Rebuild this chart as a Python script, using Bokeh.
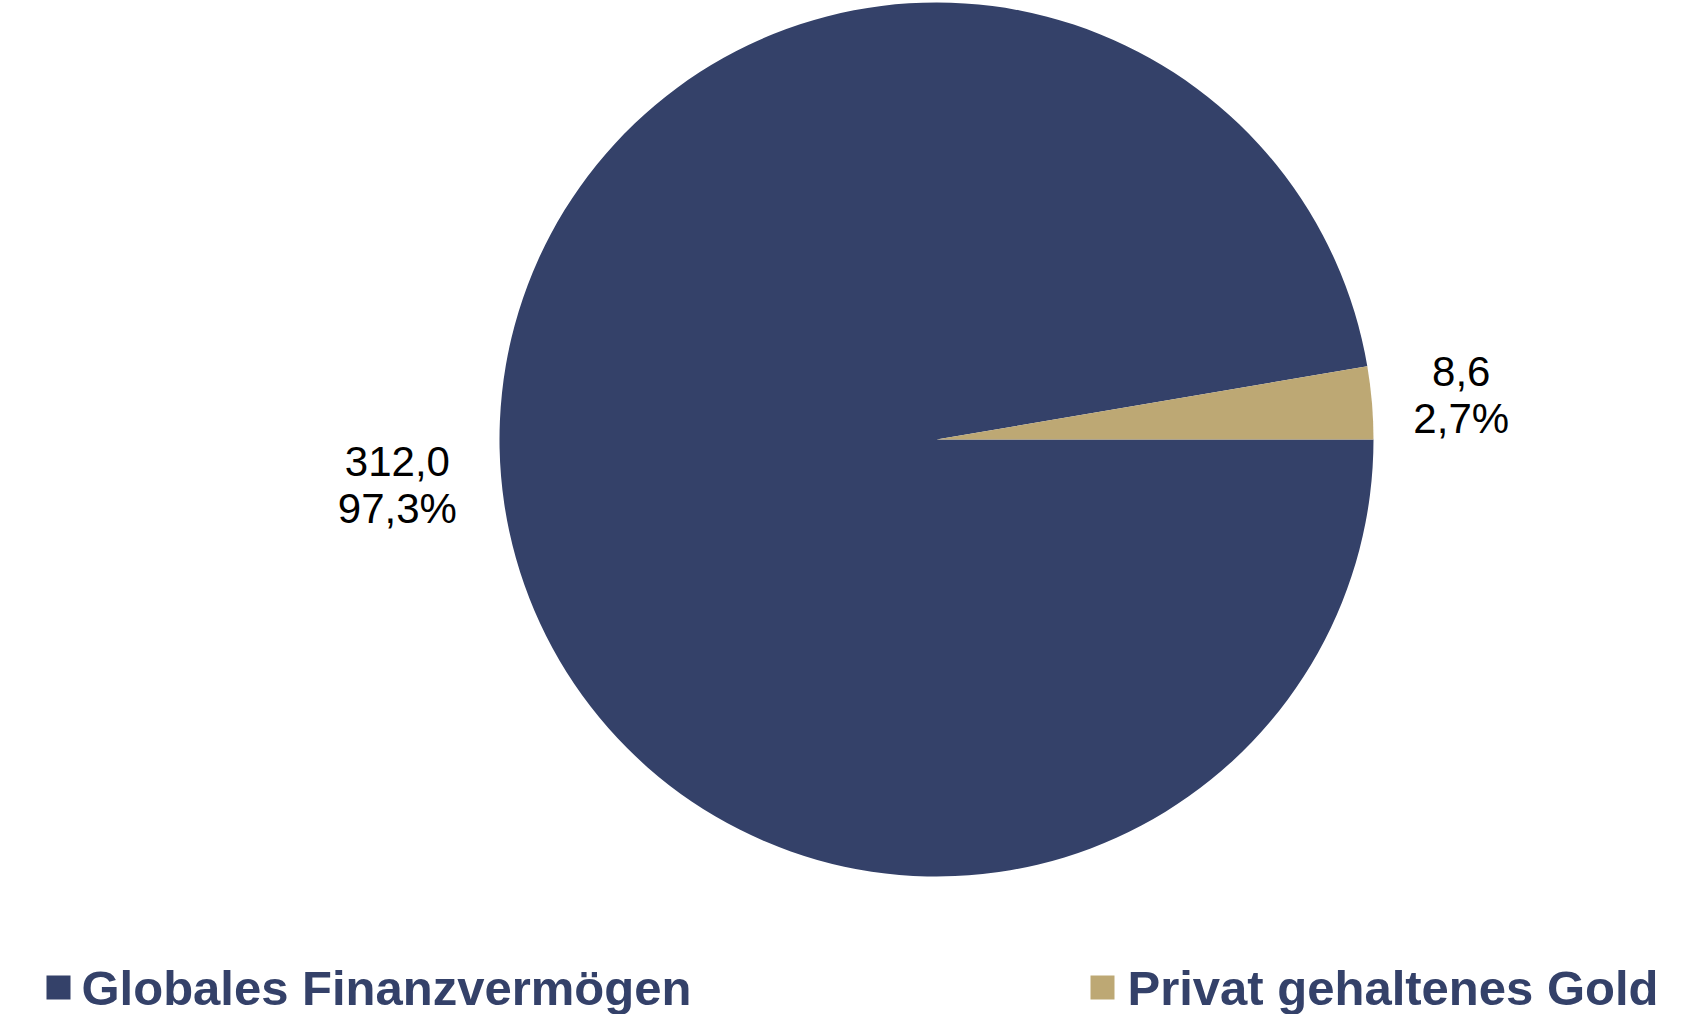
import math
from bokeh.plotting import figure
from bokeh.models import Range1d, ColumnDataSource
from bokeh.core.properties import value
from bokeh.embed import file_html
from bokeh.resources import INLINE

# ---- data ----
categories = ["Globales Finanzvermögen", "Privat gehaltenes Gold"]
values = [312.0, 8.6]
colors = ["#344169", "#BDA874"]

W, H = 1686, 1014
p = figure(width=W, height=H, output_backend="svg", toolbar_location=None,
           x_range=Range1d(0, W), y_range=Range1d(0, H), min_border=0)
p.axis.visible = False
p.grid.visible = False
p.outline_line_color = None
p.background_fill_color = "white"

cx, cy, r = 936, 575, 437
total = sum(values)
# first slice runs clockwise from 3 o'clock, as in the original
ends = []
starts = []
acc = 0.0
for v in values:
    a0 = -acc / total * 2 * math.pi
    acc += v
    a1 = -acc / total * 2 * math.pi
    starts.append(a1)
    ends.append(a0)
src = ColumnDataSource(dict(start=starts, end=ends, color=colors))
p.wedge(x=cx, y=cy, radius=r, start_angle="start", end_angle="end",
        fill_color="color", line_color=None, source=src)

# data labels
lab_x, lab_y, lab_t = [], [], []
factors = [1.238, 1.205]
for v, s, e, f in zip(values, starts, ends, factors):
    mid = (s + e) / 2
    lab_x.append(cx + r * f * math.cos(mid))
    lab_y.append(cy + r * f * math.sin(mid))
    pct = v / total * 100
    lab_t.append(f"{v:.1f}".replace(".", ",") + "\n" + f"{pct:.1f}".replace(".", ",") + "%")
p.text(x=lab_x, y=lab_y, text=lab_t, text_font=value("Liberation Sans"),
       text_font_size="42px", text_color="black", text_align="center",
       text_baseline="middle", text_line_height=1.0)

# legend
leg_x = [58, 1102]
leg_y = [27, 27]
p.rect(x=leg_x, y=leg_y, width=24, height=24, fill_color=colors, line_color=None)
p.text(x=[leg_x[0] + 23, leg_x[1] + 25], y=leg_y, text=categories,
       text_font=value("Liberation Sans"), text_font_style="bold",
       text_font_size="49px", text_color="#344169", text_align="left",
       text_baseline="middle")

open("out.html", "w").write(file_html(p, INLINE))
